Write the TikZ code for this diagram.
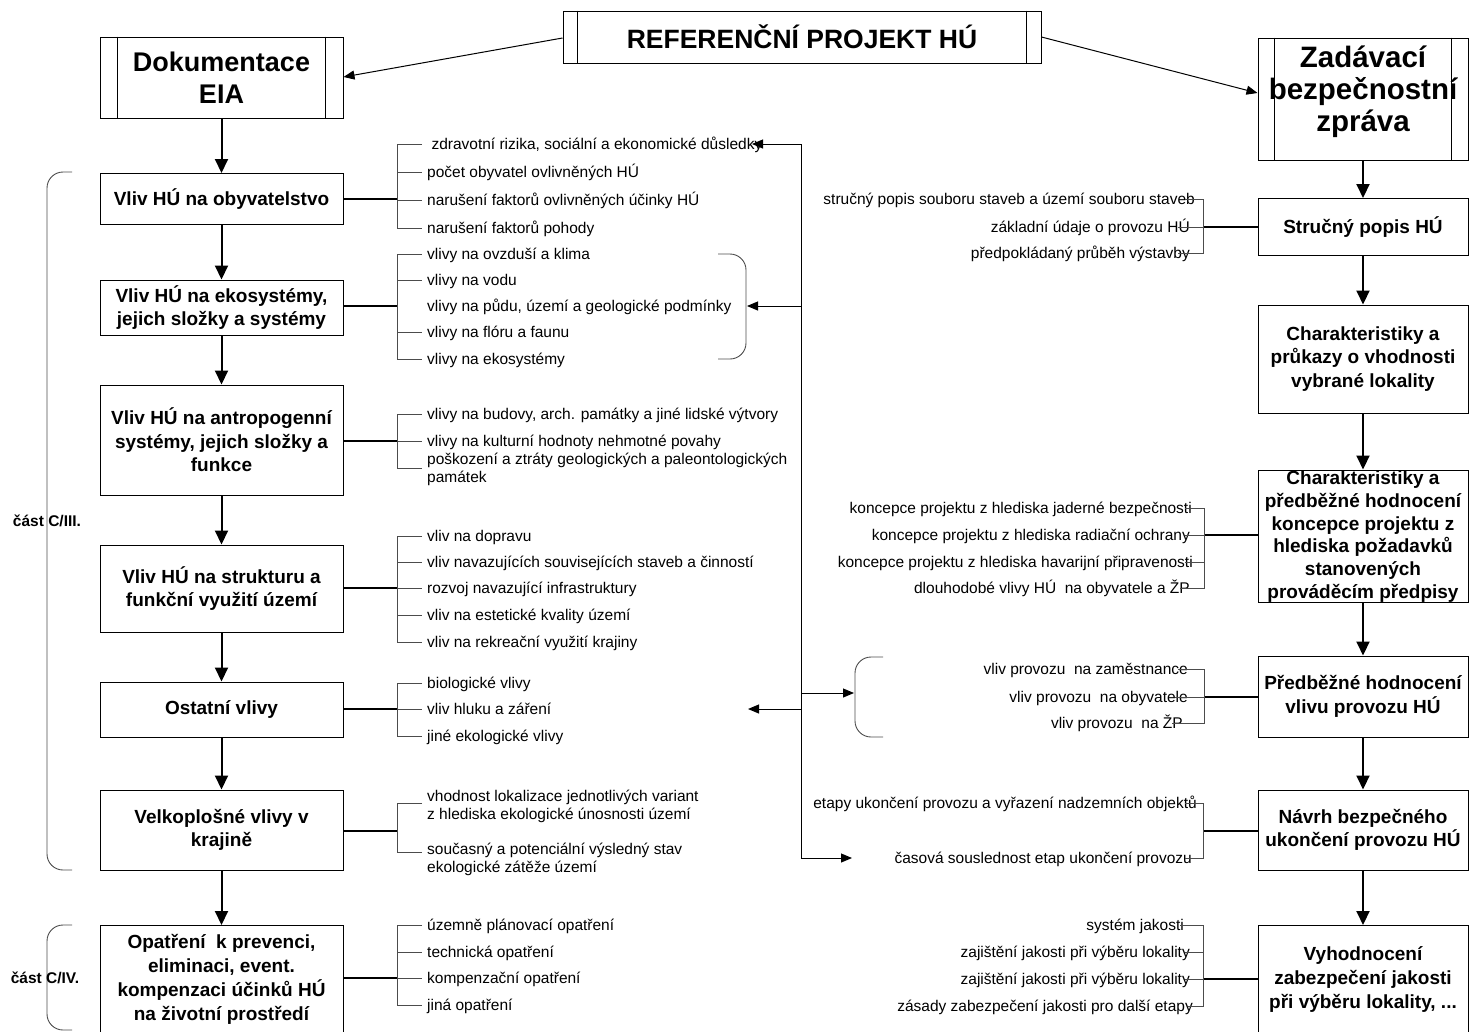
\documentclass[tikz,border=0pt]{standalone}
\usepackage{fontspec}
\setmainfont{Liberation Sans}
\usetikzlibrary{arrows.meta}
\begin{document}
\begin{tikzpicture}[x=1pt,y=-1pt,
  box/.style={draw, line width=1pt, inner sep=0pt, align=center,
    font=\fontsize{19}{23.5}\selectfont\bfseries},
  headbox/.style={box, font=\fontsize{27}{32}\selectfont\bfseries},
  title/.style={inner sep=0pt, align=center, font=\fontsize{19}{24}\selectfont\bfseries},
  flow/.style={line width=2pt, -{Triangle[length=14pt,width=13pt]}},
  trunk/.style={line width=2pt},
  twig/.style={line width=0.9pt, draw=black!70},
  item/.style={anchor=base west, inner sep=0pt, align=left,
    font=\fontsize{15.5}{18}\selectfont},
  ritem/.style={anchor=base east, inner sep=0pt, align=right,
    font=\fontsize{15.5}{18}\selectfont},
  link/.style={line width=1pt, -{Triangle[length=11pt,width=9pt]}},
  brace/.style={line width=0.9pt, draw=black!70, rounded corners=16pt},
  part/.style={inner sep=0pt, font=\fontsize{15.5}{18}\selectfont\bfseries},
]
\clip (0,0) rectangle (1470,1031);
\useasboundingbox (0,0) rectangle (1470,1031);

% ---------- head boxes ----------
\node[headbox, minimum width=478pt, minimum height=52pt] (ref) at (802,37)
  {\fontsize{26.5}{30}\selectfont REFERENČNÍ PROJEKT HÚ};
\draw[line width=1pt] ([xshift=15pt]ref.north west) -- ([xshift=15pt]ref.south west)
  ([xshift=-15pt]ref.north east) -- ([xshift=-15pt]ref.south east);

\node[headbox, minimum width=243pt, minimum height=81pt] (doc) at (221.5,77.5)
  {Dokumentace\\EIA};
\draw[line width=1pt] ([xshift=18pt]doc.north west) -- ([xshift=18pt]doc.south west)
  ([xshift=-18pt]doc.north east) -- ([xshift=-18pt]doc.south east);

\node[box, minimum width=210pt, minimum height=122pt] (zad) at (1363,99) {};
\node[title, font=\fontsize{29.5}{32}\selectfont\bfseries] (zadt) at (1363,92)
  {Zadávací\\bezpečnostní\\zpráva};
\draw[line width=1pt] ([xshift=17pt]zad.north west) -- ([xshift=17pt]zad.south west)
  ([xshift=-17pt]zad.north east) -- ([xshift=-17pt]zad.south east);

\draw[link] (ref.west |- 0,38) -- (doc.east |- 0,77);
\draw[link] (ref.east |- 0,37) -- (zad.west |- 0,93);

% ---------- left column ----------
\node[box, minimum width=243pt, minimum height=51pt] (l1) at (221.5,199) {Vliv HÚ na obyvatelstvo};
\node[box, minimum width=243pt, minimum height=55pt] (l2) at (221.5,307.5) {Vliv HÚ na ekosystémy,\\jejich složky a systémy};
\node[box, minimum width=243pt, minimum height=110pt] (l3) at (221.5,440) {Vliv HÚ na antropogenní\\systémy, jejich složky a\\funkce};
\node[box, minimum width=243pt, minimum height=87pt] (l4) at (221.5,588.5) {Vliv HÚ na strukturu a\\funkční využití území};
\node[box, minimum width=243pt, minimum height=55pt] (l5) at (221.5,709.5) {Ostatní vlivy};
\node[box, minimum width=243pt, minimum height=80pt] (l6) at (221.5,830) {Velkoplošné vlivy v\\krajině};
\node[box, minimum width=243pt, minimum height=120pt, anchor=north] (l7) at (221.5,925) {};
\node[title] (l7t) at (221.5,979)
  {Opatření\ \ k prevenci,\\eliminaci, event.\\kompenzaci účinků HÚ\\na životní prostředí};

\draw[flow] (doc) -- (l1);
\draw[flow] (l1) -- (l2);
\draw[flow] (l2) -- (l3);
\draw[flow] (l3) -- (l4);
\draw[flow] (l4) -- (l5);
\draw[flow] (l5) -- (l6);
\draw[flow] (l6) -- (l7);

% ---------- right column ----------
\node[box, minimum width=210pt, minimum height=57pt] (r1) at (1363,227) {Stručný popis HÚ};
\node[box, minimum width=210pt, minimum height=108pt] (r2) at (1363,359) {Charakteristiky a\\průkazy o vhodnosti\\vybrané lokality};
\node[box, minimum width=210pt, minimum height=132pt] (r3) at (1363,536) {};
\node[title, font=\fontsize{19}{22.7}\selectfont\bfseries] (r3t) at (1363,536.5)
  {Charakteristiky a\\předběžné hodnocení\\koncepce projektu z\\hlediska požadavků\\stanovených\\prováděcím předpisy};
\node[box, minimum width=210pt, minimum height=81pt] (r4) at (1363,696.5) {Předběžné hodnocení\\vlivu provozu HÚ};
\node[box, minimum width=210pt, minimum height=80pt] (r5) at (1363,830) {Návrh bezpečného\\ukončení provozu HÚ};
\node[box, minimum width=210pt, minimum height=120pt, anchor=north] (r6) at (1363,925) {};
\node[title] (r6t) at (1363,979)
  {Vyhodnocení\\zabezpečení jakosti\\při výběru lokality, ...};

\draw[flow] (zad) -- (r1);
\draw[flow] (r1) -- (r2);
\draw[flow] (r2) -- (r3);
\draw[flow] (r3) -- (r4);
\draw[flow] (r4) -- (r5);
\draw[flow] (r5) -- (r6);

% ---------- left item lists (baseline = tick + 5; multi-line: last line) ----------
% group 1
\foreach \y/\t [count=\i] in {144/{\ zdravotní rizika, sociální a ekonomické důsledky},
  172/{počet obyvatel ovlivněných HÚ}, 200/{narušení faktorů ovlivněných účinky HÚ},
  228/{narušení faktorů pohody}}
  \node[item] (a\i) at (427,\y+5) {\t};
\draw[trunk] (l1.east) -- (397,199);
\draw[twig] (422,144) -| (397,228) -- (422,228);
\draw[twig] (397,172) -- (422,172) (397,200) -- (422,200);

% group 2
\foreach \y/\t [count=\i] in {254/{vlivy na ovzduší a klima}, 280/{vlivy na vodu},
  306/{vlivy na půdu, území a geologické podmínky}, 332/{vlivy na flóru a faunu},
  359/{vlivy na ekosystémy}}
  \node[item] (b\i) at (427,\y+5) {\t};
\draw[trunk] (l2.east |- 0,306) -- (397,306);
\draw[twig] (422,254) -| (397,359) -- (422,359);
\draw[twig] (397,280) -- (422,280) (397,332) -- (422,332);
\coordinate (bt) at (718,254);
\coordinate (bb) at (718,359);
\draw[brace] (bt) -- (746,254) -- (746,359) -- (bb);
\coordinate (bm) at (747,306);

% group 3
\node[item] (c1) at (427,419) {vlivy na budovy, arch. památky a jiné lidské výtvory};
\node[item] (c2) at (427,446) {vlivy na kulturní hodnoty nehmotné povahy};
\node[item] (c3) at (427,482) {poškození a ztráty geologických a paleontologických\\památek};
\draw[trunk] (l3.east |- 0,441) -- (397,441);
\draw[twig] (422,414) -| (397,468) -- (422,468);
\draw[twig] (397,441) -- (422,441);

% group 4
\foreach \y/\t [count=\i] in {536/{vliv na dopravu},
  562/{vliv navazujících souvisejících staveb a činností},
  588/{rozvoj navazující infrastruktury}, 615/{vliv na estetické kvality území},
  642/{vliv na rekreační využití krajiny}}
  \node[item] (d\i) at (427,\y+5) {\t};
\draw[trunk] (l4.east |- 0,588) -- (397,588);
\draw[twig] (422,536) -| (397,642) -- (422,642);
\draw[twig] (397,562) -- (422,562) (397,588) -- (422,588) (397,615) -- (422,615);

% group 5
\foreach \y/\t [count=\i] in {683/{biologické vlivy}, 709/{vliv hluku a záření},
  736/{jiné ekologické vlivy}}
  \node[item] (e\i) at (427,\y+5) {\t};
\draw[trunk] (l5.east |- 0,709) -- (397,709);
\draw[twig] (422,683) -| (397,736) -- (422,736);
\draw[twig] (397,709) -- (422,709);

% group 6
\node[item] (f1) at (427,819) {vhodnost lokalizace jednotlivých variant\\z hlediska ekologické únosnosti území};
\node[item] (f2) at (427,872) {současný a potenciální výsledný stav\\ekologické zátěže území};
\draw[trunk] (l6.east |- 0,831) -- (397,831);
\draw[twig] (422,803) -| (397,852) -- (422,852);

% group 7
\foreach \y/\t [count=\i] in {925/{územně plánovací opatření}, 952/{technická opatření},
  978/{kompenzační opatření}, 1005/{jiná opatření}}
  \node[item] (g\i) at (427,\y+5) {\t};
\draw[trunk] (l7.east |- 0,978) -- (397,978);
\draw[twig] (422,925) -| (397,1005) -- (422,1005);
\draw[twig] (397,952) -- (422,952) (397,978) -- (422,978);

% ---------- right item lists ----------
% group R1
\node[ritem] (p1) at (1195,204) {stručný popis souboru staveb a území souboru staveb};
\node[ritem] (p2) at (1190,232) {základní údaje o provozu HÚ};
\node[ritem] (p3) at (1190,258) {předpokládaný průběh výstavby};
\draw[trunk] (r1.west) -- (1203,227);
\draw[twig] (1185,199) -| (1203,253) -- (1178,253);
\draw[twig] (1178,227) -- (1203,227);

% group R2
\node[ritem] (q1) at (1192,513) {koncepce projektu z hlediska jaderné bezpečnosti};
\node[ritem] (q2) at (1190,540) {koncepce projektu z hlediska radiační ochrany};
\node[ritem] (q3) at (1193,567) {koncepce projektu z hlediska havarijní připravenosti};
\node[ritem] (q4) at (1190,593) {dlouhodobé vlivy HÚ\ \ na obyvatele a ŽP};
\draw[trunk] (r3.west |- 0,535) -- (1204,535);
\draw[twig] (1185,508) -| (1204,588) -- (1180,588);
\draw[twig] (1185,535) -- (1204,535) (1185,562) -- (1204,562);

% group R3
\node[ritem] (s1) at (1188,674) {vliv provozu\ \ na zaměstnance};
\node[ritem] (s2) at (1188,702) {vliv provozu\ \ na obyvatele};
\node[ritem] (s3) at (1183,728) {vliv provozu\ \ na ŽP};
\draw[trunk] (r4.west |- 0,697) -- (1204,697);
\draw[twig] (1178,669) -| (1204,723) -- (1172,723);
\draw[twig] (1175,697) -- (1204,697);
\coordinate (st) at (883,657);
\coordinate (sb) at (883,737);
\draw[brace] (st) -- (855,657) -- (855,737) -- (sb);
\coordinate (sm) at (854,693);

% group R4
\node[ritem] (t1) at (1197,808) {etapy ukončení provozu a vyřazení nadzemních objektů};
\node[ritem] (t2) at (1192,863) {časová souslednost etap ukončení provozu};
\draw[trunk] (r5.west |- 0,831) -- (1203,831);
\draw[twig] (1185,803) -| (1203,858) -- (1185,858);
\coordinate (tm) at (852,858);

% group R5
\node[ritem] (u1) at (1184,930) {systém jakosti};
\node[ritem] (u2) at (1190,957) {zajištění jakosti při výběru lokality};
\node[ritem] (u3) at (1190,984) {zajištění jakosti při výběru lokality};
\node[ritem] (u4) at (1193,1011) {zásady zabezpečení jakosti pro další etapy};
\draw[trunk] (r6.west |- 0,979) -- (1203,979);
\draw[twig] (1180,925) -| (1203,1006) -- (1188,1006);
\draw[twig] (1185,952) -- (1203,952) (1185,979) -- (1203,979);

% ---------- central feedback line ----------
\coordinate (fa) at (752,144);
\coordinate (fe) at (748,709);
\draw[link] (801,144) -- (fa);
\draw[line width=1pt] (801,144) -- (801,858);
\draw[link] (801,306) -- (bm);
\draw[link] (801,693) -- (sm);
\draw[link] (801,709) -- (fe);
\draw[link] (801,858) -- (tm);

% ---------- part brackets ----------
\coordinate (k1t) at (72,172);
\coordinate (k1b) at (72,870);
\draw[brace] (k1t) -- (47,172) -- (47,870) -- (k1b);
\node[part] (k1) at (47,521) {část C/III.};
\coordinate (k2t) at (72,925);
\coordinate (k2b) at (72,1030);
\draw[brace] (k2t) -- (47,925) -- (47,1030) -- (k2b);
\node[part] (k2) at (45,978) {část C/IV.};
\end{tikzpicture}
\end{document}
